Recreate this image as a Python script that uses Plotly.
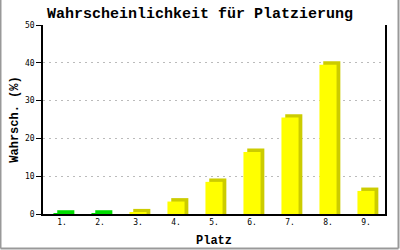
import plotly.graph_objects as go

categories = ["1.", "2.", "3.", "4.", "5.", "6.", "7.", "8.", "9."]
values = [0.1, 0.1, 0.45, 3.3, 8.5, 16.4, 25.5, 39.5, 6.1]
front_colors = ["#00dd00", "#00dd00"] + ["#ffff00"] * 7
side_colors = ["#00dd00", "#00dd00"] + ["#cccc00"] * 7

bar_w = 0.45
depth_x = 0.10
depth_y = 0.9

fig = go.Figure()
fig.add_trace(go.Bar(
    x=categories, y=[v + depth_y for v in values],
    width=bar_w, offset=-bar_w / 2 + depth_x,
    marker=dict(color=side_colors, line=dict(width=0)),
    hoverinfo="skip", showlegend=False,
))
fig.add_trace(go.Bar(
    x=categories, y=values,
    width=bar_w, offset=-bar_w / 2,
    marker=dict(color=front_colors, line=dict(width=0)),
    showlegend=False,
))

mono = "DejaVu Sans Mono"
tmono = "Liberation Mono"
fig.update_layout(
    width=400, height=250,
    margin=dict(l=43, r=15, t=25, b=36, autoexpand=False),
    paper_bgcolor="white", plot_bgcolor="white",
    barmode="overlay",
    title=dict(text="<b>Wahrscheinlichkeit für Platzierung</b>",
               font=dict(family=tmono, size=15, color="black"),
               x=0.5, xanchor="center", y=0.948, yanchor="middle"),
    xaxis=dict(
        type="category", showline=True, linecolor="black", linewidth=1.5,
        ticks="", showgrid=False, automargin=False,
        tickfont=dict(family=mono, size=8, color="black"),
        title=dict(text="<b>Platz</b>", font=dict(family=tmono, size=12, color="black"), standoff=9),
        range=[-0.5, 8.5],
    ),
    yaxis=dict(
        range=[0, 50], dtick=10, showline=True, linecolor="black", linewidth=1.5,
        mirror=True, ticks="outside", ticklen=5, tickcolor="black",
        showgrid=True, gridcolor="#bbbbbb", griddash="2px,4px", gridwidth=1,
        zeroline=False, automargin=False,
        tickfont=dict(family=mono, size=8, color="black"),
        title=dict(text="<b>Wahrsch. (%)</b>", font=dict(family=tmono, size=12, color="black"), standoff=4),
    ),
)
# outer frame (left, right, bottom only)
xl, xr = -42.5 / 342, 1 + 13.5 / 342
yb, yt = -34.5 / 189, 1 + 25 / 189
for (a0, b0, a1, b1) in [(xl, yb, xl, yt), (xr, yb, xr, yt), (xl, yb, xr, yb)]:
    fig.add_shape(type="line", xref="paper", yref="paper",
                  x0=a0, y0=b0, x1=a1, y1=b1,
                  line=dict(color="#999999", width=2), layer="below")

fig.write_html("out.html")
